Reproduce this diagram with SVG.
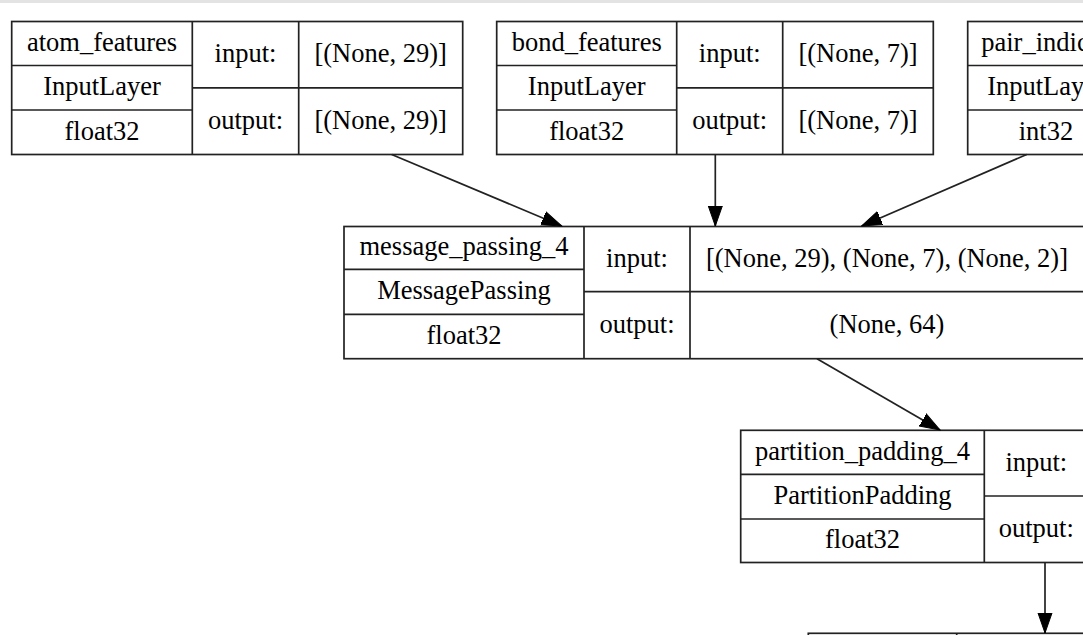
<svg xmlns="http://www.w3.org/2000/svg" width="1083" height="635" viewBox="0 0 1083 635">
  <style>
    .box { fill: #ffffff; stroke: #222222; stroke-width: 1.7; }
    .sep { stroke: #222222; stroke-width: 1.7; fill: none; }
    .t { font-family: "Liberation Serif", "Times New Roman", serif; font-size: 26.5px; fill: #000000; text-anchor: middle; }
    .edge { stroke: #222222; stroke-width: 1.7; fill: none; marker-end: url(#arrow); }
  </style>
  <defs>
    <marker id="arrow" markerUnits="userSpaceOnUse" markerWidth="21" markerHeight="16" refX="20" refY="7.5" orient="auto" viewBox="0 0 21 15">
      <path d="M0,0.5 L20,7.5 L0,14.5 Z" fill="#000000" stroke="#000000" stroke-width="1"/>
    </marker>
  </defs>
  <rect x="0" y="0" width="1083" height="635" fill="#ffffff"/>
  <rect x="0" y="0" width="1083" height="3" fill="#e3e3e3"/>

  <g id="atom_features">
    <rect class="box" x="11.7" y="21.5" width="451" height="133"/>
    <line class="sep" x1="192.3" y1="21.5" x2="192.3" y2="154.5"/>
    <line class="sep" x1="298.7" y1="21.5" x2="298.7" y2="154.5"/>
    <line class="sep" x1="11.7" y1="65.5" x2="192.3" y2="65.5"/>
    <line class="sep" x1="11.7" y1="110" x2="192.3" y2="110"/>
    <line class="sep" x1="192.3" y1="87.8" x2="462.7" y2="87.8"/>
    <text class="t" x="102" y="50.5">atom_features</text>
    <text class="t" x="102" y="95">InputLayer</text>
    <text class="t" x="102" y="139.5">float32</text>
    <text class="t" x="245.5" y="62">input:</text>
    <text class="t" x="245.5" y="128.5">output:</text>
    <text class="t" x="380.7" y="62">[(None, 29)]</text>
    <text class="t" x="380.7" y="128.5">[(None, 29)]</text>
  </g>

  <g id="bond_features">
    <rect class="box" x="496.7" y="21.5" width="436.6" height="133"/>
    <line class="sep" x1="676.7" y1="21.5" x2="676.7" y2="154.5"/>
    <line class="sep" x1="782.7" y1="21.5" x2="782.7" y2="154.5"/>
    <line class="sep" x1="496.7" y1="65.5" x2="676.7" y2="65.5"/>
    <line class="sep" x1="496.7" y1="110" x2="676.7" y2="110"/>
    <line class="sep" x1="676.7" y1="87.8" x2="933.3" y2="87.8"/>
    <text class="t" x="586.7" y="50.5">bond_features</text>
    <text class="t" x="586.7" y="95">InputLayer</text>
    <text class="t" x="586.7" y="139.5">float32</text>
    <text class="t" x="729.7" y="62">input:</text>
    <text class="t" x="729.7" y="128.5">output:</text>
    <text class="t" x="858" y="62">[(None, 7)]</text>
    <text class="t" x="858" y="128.5">[(None, 7)]</text>
  </g>

  <g id="pair_indices">
    <rect class="box" x="967.7" y="21.5" width="300" height="133"/>
    <line class="sep" x1="967.7" y1="65.5" x2="1124.3" y2="65.5"/>
    <line class="sep" x1="967.7" y1="110" x2="1124.3" y2="110"/>
    <text class="t" x="1046" y="50.5">pair_indices</text>
    <text class="t" x="1046" y="95">InputLayer</text>
    <text class="t" x="1046" y="139.5">int32</text>
  </g>

  <g id="message_passing_4">
    <rect class="box" x="344" y="226.5" width="740" height="132.2"/>
    <line class="sep" x1="584" y1="226.5" x2="584" y2="358.7"/>
    <line class="sep" x1="690" y1="226.5" x2="690" y2="358.7"/>
    <line class="sep" x1="344" y1="269.3" x2="584" y2="269.3"/>
    <line class="sep" x1="344" y1="314.3" x2="584" y2="314.3"/>
    <line class="sep" x1="584" y1="291.7" x2="1084" y2="291.7"/>
    <text class="t" x="464" y="255">message_passing_4</text>
    <text class="t" x="464" y="299">MessagePassing</text>
    <text class="t" x="464" y="343.5">float32</text>
    <text class="t" x="637" y="266.5">input:</text>
    <text class="t" x="637" y="332.5">output:</text>
    <text class="t" x="887" y="266.5">[(None, 29), (None, 7), (None, 2)]</text>
    <text class="t" x="887" y="332.5">(None, 64)</text>
  </g>

  <g id="partition_padding_4">
    <rect class="box" x="740.7" y="430.3" width="400" height="132.2"/>
    <line class="sep" x1="984.3" y1="430.3" x2="984.3" y2="562.5"/>
    <line class="sep" x1="740.7" y1="474.3" x2="984.3" y2="474.3"/>
    <line class="sep" x1="740.7" y1="519" x2="984.3" y2="519"/>
    <line class="sep" x1="984.3" y1="496" x2="1140.7" y2="496"/>
    <text class="t" x="862.5" y="459.5">partition_padding_4</text>
    <text class="t" x="862.5" y="504">PartitionPadding</text>
    <text class="t" x="862.5" y="548">float32</text>
    <text class="t" x="1036.3" y="470.5">input:</text>
    <text class="t" x="1036.3" y="536.5">output:</text>
  </g>

  <g id="next_layer">
    <rect class="box" x="808.3" y="633.3" width="400" height="60"/>
    <line class="sep" x1="956.7" y1="633.3" x2="956.7" y2="660"/>
  </g>

  <g id="connectors">
    <line class="edge" x1="391.7" y1="154.5" x2="561.7" y2="226"/>
    <line class="edge" x1="715.3" y1="154.5" x2="715.3" y2="226"/>
    <line class="edge" x1="1026.7" y1="154.5" x2="861.7" y2="226"/>
    <line class="edge" x1="817" y1="358.7" x2="940" y2="430"/>
    <line class="edge" x1="1045" y1="562.5" x2="1045" y2="633"/>
  </g>
</svg>
